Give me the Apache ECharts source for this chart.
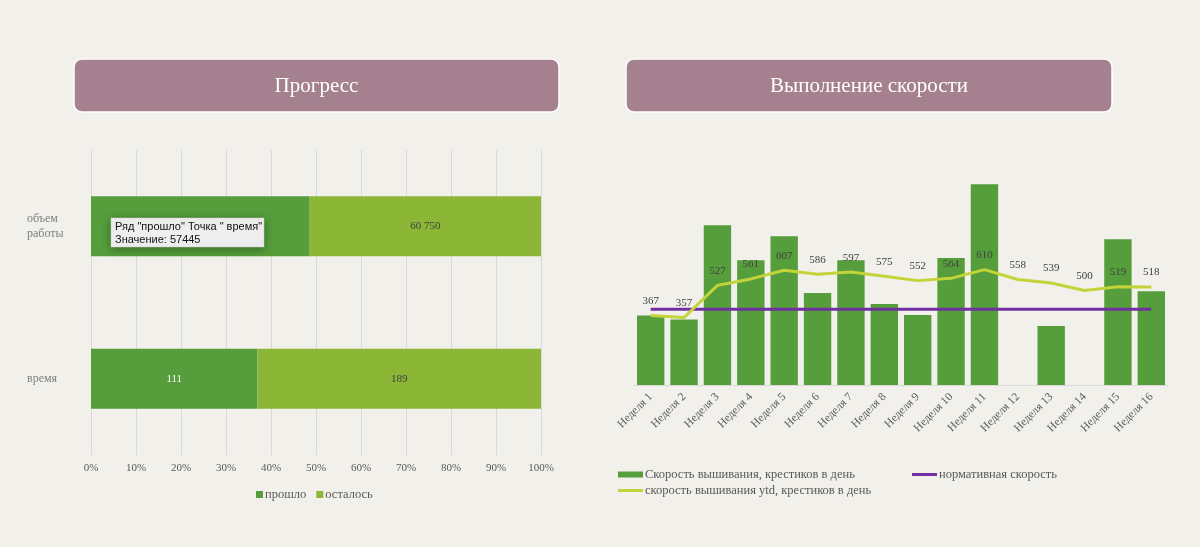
<!DOCTYPE html>
<html>
<head>
<meta charset="utf-8">
<script src="https://cdn.jsdelivr.net/npm/echarts@6/dist/echarts.min.js"></script>
<style>
html,body{margin:0;padding:0;background:#f2f0eb;}
#c{width:1200px;height:547px;}
</style>
</head>
<body>
<div id="c"></div>
<script>
// ---- data ----
const progressCats = ['объем работы', 'время'];
const passed = [57445, 111];
const remaining = [60750, 189];

const weeks = ['Неделя 1','Неделя 2','Неделя 3','Неделя 4','Неделя 5','Неделя 6','Неделя 7','Неделя 8',
  'Неделя 9','Неделя 10','Неделя 11','Неделя 12','Неделя 13','Неделя 14','Неделя 15','Неделя 16'];
const dailySpeed = [367, 347, 845, 660, 787, 486, 660, 428, 370, 671, 1061, null, 312, null, 771, 496];
const ytdSpeed = [367, 357, 527, 561, 607, 586, 597, 575, 552, 564, 610, 558, 539, 500, 519, 518];
const normSpeed = [400, 400, 400, 400, 400, 400, 400, 400, 400, 400, 400, 400, 400, 400, 400, 400];

const tooltipLines = ['Ряд "прошло" Точка " время"', 'Значение: 57445'];

// ---- styles ----
const SERIF = 'Liberation Serif';
const DARK = '#559e3b', LIGHT = '#8cb636', YTD = '#c3d43a', PURPLE = '#7030a0';

const totals = passed.map((v, i) => v + remaining[i]);
const passedPct = passed.map((v, i) => v / totals[i] * 100);
const remainingPct = remaining.map((v, i) => v / totals[i] * 100);
const fmt = v => String(v).replace(/\B(?=(\d{3})+(?!\d))/g, ' ');

const chart = echarts.init(document.getElementById('c'));

function titleBox(x, w, text) {
  return [
    { type: 'rect', z: 50, shape: { x: x, y: 59, width: w, height: 53, r: 8 },
      style: { fill: '#a5808f', stroke: '#ffffff', lineWidth: 1.5 } },
    { type: 'text', z: 51, style: { text: text, x: x + w / 2, y: 86, fill: '#ffffff',
      fontSize: 21, fontFamily: SERIF, align: 'center', verticalAlign: 'middle' } }
  ];
}

const legendText = { color: '#595959', fontSize: 12.5, fontFamily: SERIF, padding: [0, 0, 0, -3] };

chart.setOption({
  backgroundColor: '#f2f0eb',
  animation: false,
  textStyle: { fontFamily: SERIF },
  grid: [
    { left: 91, right: 659, top: 150, bottom: 92 },
    { left: 634, right: 32, top: 177, bottom: 162 }
  ],
  xAxis: [
    { type: 'value', gridIndex: 0, min: 0, max: 100, interval: 10,
      axisLine: { show: false }, axisTick: { show: false },
      splitLine: { show: true, lineStyle: { color: '#dadada', width: 1 } },
      axisLabel: { formatter: '{value}%', color: '#595959', fontSize: 11, fontFamily: SERIF, margin: 8 } },
    { type: 'category', gridIndex: 1, data: weeks,
      axisLine: { show: true, lineStyle: { color: '#d9d9d9' } }, axisTick: { show: false },
      axisLabel: { rotate: 45, color: '#595959', fontSize: 11.5, fontFamily: SERIF, margin: 10, interval: 0 } }
  ],
  yAxis: [
    { type: 'category', gridIndex: 0, data: progressCats, inverse: true,
      axisLine: { show: false }, axisTick: { show: false },
      axisLabel: { align: 'left', margin: 64, color: '#7f7f7f', fontSize: 12, fontFamily: SERIF, lineHeight: 15,
        formatter: v => v.replace(' ', '\n') } },
    { type: 'value', gridIndex: 1, min: 0, max: 1100, show: false, splitLine: { show: false } }
  ],
  legend: [
    { data: ['прошло', 'осталось'], left: 251, top: 483, icon: 'rect', itemWidth: 7, itemHeight: 7, itemGap: 10,
      textStyle: legendText },
    { data: ['Скорость вышивания, крестиков в день'], left: 613, top: 463, icon: 'rect', itemWidth: 25, itemHeight: 6,
      textStyle: legendText },
    { data: ['нормативная скорость'], left: 907, top: 463, icon: 'rect', itemWidth: 25, itemHeight: 3,
      textStyle: legendText },
    { data: ['скорость вышивания ytd, крестиков в день'], left: 613, top: 479, icon: 'rect', itemWidth: 25, itemHeight: 3,
      textStyle: legendText }
  ],
  series: [
    { name: 'прошло', type: 'bar', stack: 'p', xAxisIndex: 0, yAxisIndex: 0, barWidth: 60,
      data: passedPct, itemStyle: { color: DARK },
      label: { show: true, color: '#ffffff', fontSize: 11, fontFamily: SERIF,
        formatter: p => fmt(passed[p.dataIndex]) } },
    { name: 'осталось', type: 'bar', stack: 'p', xAxisIndex: 0, yAxisIndex: 0, barWidth: 60,
      data: remainingPct, itemStyle: { color: LIGHT },
      label: { show: true, color: '#404040', fontSize: 11, fontFamily: SERIF,
        formatter: p => fmt(remaining[p.dataIndex]) } },
    { name: 'Скорость вышивания, крестиков в день', type: 'bar', xAxisIndex: 1, yAxisIndex: 1,
      data: dailySpeed, barCategoryGap: '18%', itemStyle: { color: DARK } },
    { name: 'нормативная скорость', type: 'line', xAxisIndex: 1, yAxisIndex: 1, symbol: 'none',
      data: normSpeed, lineStyle: { color: PURPLE, width: 3 }, itemStyle: { color: PURPLE }, z: 3 },
    { name: 'скорость вышивания ytd, крестиков в день', type: 'line', xAxisIndex: 1, yAxisIndex: 1,
      symbol: 'circle', symbolSize: 0, showSymbol: true,
      data: ytdSpeed, lineStyle: { color: YTD, width: 3 }, itemStyle: { color: YTD }, z: 4,
      label: { show: true, position: 'top', distance: 9, color: '#404040', fontSize: 11, fontFamily: SERIF } }
  ],
  graphic: [
    ...titleBox(74, 485, 'Прогресс'),
    ...titleBox(626, 486, 'Выполнение скорости'),
    { type: 'rect', z: 100, shape: { x: 111, y: 218, width: 153, height: 29 },
      style: { fill: '#efefef', stroke: '#d0d0d0', lineWidth: 0.5,
        shadowBlur: 10, shadowColor: 'rgba(0,0,0,0.35)', shadowOffsetY: 2 } },
    { type: 'text', z: 101, style: { text: tooltipLines.join('\n'), x: 115, y: 220, fill: '#111111',
      fontSize: 11, fontFamily: 'Liberation Sans', lineHeight: 13.5, align: 'left', verticalAlign: 'top' } }
  ]
});
</script>
</body>
</html>
